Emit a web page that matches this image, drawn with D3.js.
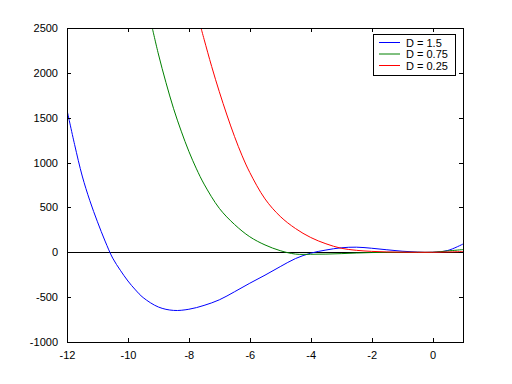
<!DOCTYPE html>
<html>
<head>
<meta charset="utf-8">
<script src="https://cdn.jsdelivr.net/npm/d3@7"></script>
<style>
  body { margin: 0; background: #fff; }
  svg text { font-family: "Liberation Sans", Arial, sans-serif; font-size: 11px; fill: #000; }
</style>
</head>
<body>
<div id="chart"></div>
<script>
// values
const blueX = [-12, -11.75, -11.5, -11.25, -11, -10.75, -10.5, -10.25, -10, -9.75, -9.5, -9, -8.5, -8, -7.5, -7, -6.5, -6, -5.5, -5, -4.5, -4, -3.5, -3, -2.5, -2, -1.5, -1, -0.5, 0, 0.5, 1]
const blueY = [1586, 1200, 850, 575, 340, 125, -65, -200, -320, -420, -505, -610, -648, -635, -592, -530, -440, -345, -255, -160, -70, -10, 25, 50, 57, 45, 28, 12, 2, 0, 20, 92]

const greenX = [-9.2, -9, -8.75, -8.5, -8.25, -8, -7.75, -7.5, -7, -6.5, -6, -5.5, -5, -4.5, -4, -3.5, -3, -2.5, -2, -1.5, -1, -0.5, 0, 0.5, 1]
const greenY = [2500, 2210, 1890, 1600, 1350, 1125, 930, 760, 490, 310, 173, 82, 18, -20, -22, -20, -15, -8, -3, -1, 0, 0, 0, 15, 30]

const redX = [-7.6, -7.5, -7.25, -7, -6.75, -6.5, -6.25, -6, -5.5, -5, -4.5, -4, -3.5, -3, -2.5, -2, -1.5, -1, -0.5, 0, 0.5, 1]
const redY = [2500, 2375, 2070, 1790, 1530, 1290, 1075, 890, 595, 400, 265, 165, 95, 45, 22, 10, 4, 1, 0, 0, 3, 8]

const labels = ["D = 1.5", "D = 0.75", "D = 0.25"]
const colors = ["#0000ff", "#008000", "#ff0000"]

const xTicks = [-12, -10, -8, -6, -4, -2, 0]
const yTicks = [-1000, -500, 0, 500, 1000, 1500, 2000, 2500]

const w = 512, h = 384
const m = {left: 67, right: 463, top: 28, bottom: 342}
const tick = 4

const svg = d3.select("#chart").append("svg")
    .attr("width", w)
    .attr("height", h)

const x = d3.scaleLinear().domain([-12, 1]).range([m.left, m.right])
const y = d3.scaleLinear().domain([-1000, 2500]).range([m.bottom, m.top])

svg.append("defs").append("clipPath").attr("id", "plot")
    .append("rect")
    .attr("x", m.left).attr("y", m.top)
    .attr("width", m.right - m.left).attr("height", m.bottom - m.top)

// zero line
svg.append("line")
    .attr("x1", x(-12)).attr("x2", x(1))
    .attr("y1", y(0)).attr("y2", y(0))
    .attr("stroke", "#000")
    .attr("shape-rendering", "crispEdges")

const series = [
    {xs: blueX, ys: blueY},
    {xs: greenX, ys: greenY},
    {xs: redX, ys: redY}
]

const line = d3.line()
    .x(d => x(d[0]))
    .y(d => y(d[1]))
    .curve(d3.curveCatmullRom.alpha(0.5))

const paths = svg.append("g").attr("clip-path", "url(#plot)")
series.forEach((s, i) => {
    paths.append("path")
        .datum(d3.zip(s.xs, s.ys))
        .attr("d", line)
        .attr("fill", "none")
        .attr("stroke", colors[i])
        .attr("stroke-width", 1)
})

// axes box, ticks inward on all four sides
const axes = svg.append("g").attr("shape-rendering", "crispEdges")
const fmt = d => String(d)

axes.append("rect")
    .attr("x", m.left).attr("y", m.top)
    .attr("width", m.right - m.left).attr("height", m.bottom - m.top)
    .attr("fill", "none")
    .attr("stroke", "#000")

axes.append("g")
    .attr("transform", `translate(0, ${m.bottom})`)
    .call(d3.axisBottom(x).tickValues(xTicks).tickFormat(fmt).tickSize(-tick).tickPadding(9).tickSizeOuter(0))
axes.append("g")
    .attr("transform", `translate(0, ${m.top})`)
    .call(d3.axisTop(x).tickValues(xTicks).tickSize(-tick).tickFormat("").tickSizeOuter(0))
axes.append("g")
    .attr("transform", `translate(${m.left}, 0)`)
    .call(d3.axisLeft(y).tickValues(yTicks).tickFormat(fmt).tickSize(-tick).tickPadding(9).tickSizeOuter(0))
axes.append("g")
    .attr("transform", `translate(${m.right}, 0)`)
    .call(d3.axisRight(y).tickValues(yTicks).tickSize(-tick).tickFormat("").tickSizeOuter(0))

axes.selectAll(".domain").remove()
axes.selectAll(".tick line").attr("stroke", "#000")
axes.selectAll("text")
    .attr("fill", "#000")
    .style("font-family", "'Liberation Sans', Arial, sans-serif")
    .style("font-size", "11px")

// legend
const legend = svg.append("g")
legend.append("rect")
    .attr("x", 373.5).attr("y", 34.5)
    .attr("width", 82).attr("height", 41)
    .attr("fill", "#fff")
    .attr("stroke", "#000")
    .attr("shape-rendering", "crispEdges")

labels.forEach((lab, i) => {
    const ly = 42.5 + i * 11.5
    legend.append("line")
        .attr("x1", 379).attr("x2", 400)
        .attr("y1", ly).attr("y2", ly)
        .attr("stroke", colors[i])
    legend.append("text")
        .attr("x", 406)
        .attr("y", ly + 4)
        .text(lab)
})
</script>
</body>
</html>
